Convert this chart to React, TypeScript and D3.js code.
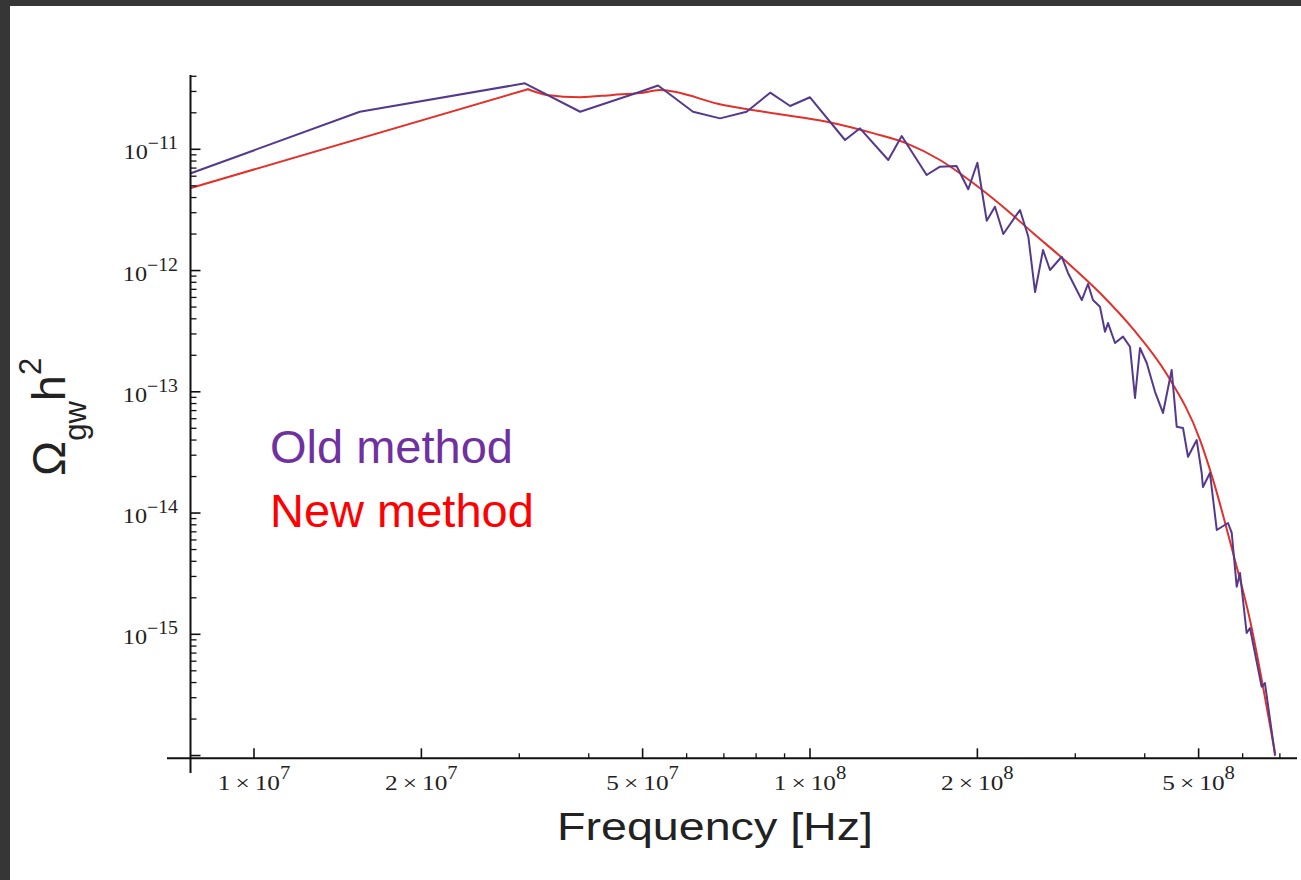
import React from "react";
import * as d3 from "d3";

// ---- data ----
const oldFreq = [7.70e6, 1.55e7, 3.07e7, 3.86e7, 4.95e7, 5.33e7, 6.16e7, 6.89e7, 7.69e7, 8.48e7, 9.21e7, 1.0e8, 1.156e8, 1.23e8, 1.383e8, 1.462e8, 1.621e8, 1.713e8, 1.835e8, 1.926e8, 2.0e8, 2.079e8, 2.151e8, 2.227e8, 2.386e8, 2.47e8, 2.54e8, 2.625e8, 2.702e8, 2.836e8, 2.911e8, 3.082e8, 3.162e8, 3.228e8, 3.323e8, 3.393e8, 3.436e8, 3.537e8, 3.656e8, 3.763e8, 3.842e8, 3.922e8, 4.033e8, 4.174e8, 4.314e8, 4.472e8, 4.566e8, 4.687e8, 4.785e8, 4.96e8, 5.064e8, 5.09e8, 5.24e8, 5.39e8, 5.647e8, 5.735e8, 5.854e8, 5.935e8, 6.1e8, 6.185e8, 6.49e8, 6.58e8, 6.86e8];
const oldOmega = [6.34e-12, 2.04e-11, 3.5e-11, 2.04e-11, 2.985e-11, 3.36e-11, 2.04e-11, 1.8e-11, 2.04e-11, 2.93e-11, 2.276e-11, 2.685e-11, 1.193e-11, 1.49e-11, 8.16e-12, 1.287e-11, 6.14e-12, 7.19e-12, 7.28e-12, 4.68e-12, 7.75e-12, 2.577e-12, 3.36e-12, 2.0e-12, 3.16e-12, 1.9e-12, 6.65e-13, 1.477e-12, 1.01e-12, 1.3e-12, 9.55e-13, 5.71e-13, 7.745e-13, 5.71e-13, 5.03e-13, 3.13e-13, 3.69e-13, 2.526e-13, 2.85e-13, 2.355e-13, 8.89e-14, 2.297e-13, 1.728e-13, 1.0e-13, 6.69e-14, 1.513e-13, 5.155e-14, 5.03e-14, 2.915e-14, 4.0e-14, 2.14e-14, 1.64e-14, 2.14e-14, 7.25e-15, 8.28e-15, 6.85e-15, 2.47e-15, 3.2e-15, 1.025e-15, 1.127e-15, 3.7e-16, 3.96e-16, 1.01e-16];

const newFreq = [7.70e6, 3.11e7, 3.36e7, 3.86e7, 4.42e7, 4.95e7, 5.37e7, 6.98e7, 8.58e7, 1.072e8, 1.298e8, 1.492e8, 1.713e8, 1.965e8, 2.259e8, 2.518e8, 2.894e8, 3.323e8, 3.81e8, 4.38e8, 5.03e8, 5.31e8, 5.766e8, 6.185e8, 6.53e8, 6.86e8];
const newOmega = [4.8e-12, 3.13e-11, 2.81e-11, 2.69e-11, 2.81e-11, 2.91e-11, 3.08e-11, 2.32e-11, 1.98e-11, 1.69e-11, 1.36e-11, 1.12e-11, 8.16e-12, 5.27e-12, 3.16e-12, 2.04e-12, 1.18e-12, 6.53e-13, 3.3e-13, 1.4e-13, 4.0e-14, 1.87e-14, 4.68e-15, 1.31e-15, 3.67e-16, 1.05e-16];

const xMajorTicks = [1e7, 2e7, 5e7, 1e8, 2e8, 5e8];
const xMajorMant = ["1", "2", "5", "1", "2", "5"];
const xMajorExp = ["7", "7", "7", "8", "8", "8"];
const xMinorTicks = [3e7, 4e7, 6e7, 7e7, 8e7, 9e7, 3e8, 4e8, 6e8, 7e8];

const yMajorExps = [-11, -12, -13, -14, -15, -16];
const yLabelExps = [-11, -12, -13, -14, -15];
const yMinorMults = [2, 3, 4, 5, 6, 7, 8, 9];

const seriesNames = ["Old method", "New method"];
const seriesColors = ["#7030A0", "#FF0000"];
const lineColors = ["#55398c", "#e3302a"];

// ---- layout ----
const W = 1301;
const H = 880;
const axisX = 190.5;
const axisY = 758.3;
const axisTop = 75;
const axisRight = 1297;

export default function App() {
  React.useEffect(() => {
    document.body.style.margin = "0";
  }, []);

  const x = d3.scaleLog().domain([1e7, 1e8]).range([254, 810]);
  const y = d3.scaleLog().domain([1e-11, 1e-15]).range([149.3, 634.3]);

  const oldData = oldFreq.map((f, i) => [f, oldOmega[i]] as [number, number]);
  const newData = newFreq.map((f, i) => [f, newOmega[i]] as [number, number]);

  const line = d3
    .line<[number, number]>()
    .x((d) => x(d[0]))
    .y((d) => y(d[1]))
    .curve(d3.curveLinear);
  const smooth = d3
    .line<[number, number]>()
    .x((d) => x(d[0]))
    .y((d) => y(d[1]))
    .curve(d3.curveMonotoneX);

  const yMinor: number[] = [];
  yMajorExps.forEach((e) => {
    yMinorMults.forEach((m) => {
      const v = m * Math.pow(10, e);
      const py = y(v);
      if (py >= axisTop && py <= axisY) yMinor.push(v);
    });
  });

  const tickColor = "#111";
  const labelColor = "#222";
  const serif = "'Liberation Serif', 'Times New Roman', serif";
  const sans = "'Liberation Sans', Arial, Helvetica, sans-serif";

  return (
    <svg
      width={W}
      height={H}
      style={{ position: "absolute", left: 0, top: 0, display: "block" }}
    >
      <rect x={0} y={0} width={W} height={H} fill="#ffffff" />
      {/* dark frame */}
      <rect x={0} y={0} width={W} height={6} fill="#363636" />
      <rect x={0} y={0} width={10} height={H} fill="#363636" />

      <defs>
        <clipPath id="plotClip">
          <rect x={axisX} y={axisTop - 10} width={axisRight - axisX} height={axisY - axisTop + 10} />
        </clipPath>
      </defs>

      {/* curves */}
      <g clipPath="url(#plotClip)" fill="none" strokeLinejoin="round" strokeLinecap="round">
        <path d={line(newData.slice(0, 2)) || ""} stroke={lineColors[1]} strokeWidth={2} />
        <path d={smooth(newData.slice(1)) || ""} stroke={lineColors[1]} strokeWidth={2} />
        <path d={line(oldData) || ""} stroke={lineColors[0]} strokeWidth={2} />
      </g>

      {/* axes */}
      <line x1={axisX} x2={axisX} y1={axisTop} y2={773} stroke={tickColor} strokeWidth={2} />
      <line x1={167} x2={axisRight} y1={axisY} y2={axisY} stroke={tickColor} strokeWidth={2} />

      {/* y ticks */}
      {yMajorExps.map((e) => {
        const py = y(Math.pow(10, e));
        return (
          <line key={"ymaj" + e} x1={axisX} x2={axisX + 10} y1={py} y2={py} stroke={tickColor} strokeWidth={1.6} />
        );
      })}
      {yMinor.map((v, i) => {
        const py = y(v);
        return <line key={"ymin" + i} x1={axisX} x2={axisX + 6} y1={py} y2={py} stroke={tickColor} strokeWidth={1.3} />;
      })}
      {yLabelExps.map((e) => {
        const py = y(Math.pow(10, e));
        return (
          <text
            key={"ylab" + e}
            transform={`translate(178,${py + 10}) scale(1.1,1)`}
            textAnchor="end"
            fontFamily={serif}
            fontSize={22}
            fill={labelColor}
          >
            10
            <tspan dy={-10} fontSize={18}>
              {"\u2212" + Math.abs(e)}
            </tspan>
          </text>
        );
      })}

      {/* x ticks */}
      {xMajorTicks.map((t, i) => {
        const px = x(t);
        return <line key={"xmaj" + i} x1={px} x2={px} y1={axisY} y2={axisY - 10} stroke={tickColor} strokeWidth={1.6} />;
      })}
      {xMinorTicks.map((t, i) => {
        const px = x(t);
        return <line key={"xmin" + i} x1={px} x2={px} y1={axisY} y2={axisY - 5} stroke={tickColor} strokeWidth={1.3} />;
      })}
      {xMajorTicks.map((t, i) => {
        const px = x(t);
        return (
          <text
            key={"xlab" + i}
            transform={`translate(${px},790) scale(1.15,1)`}
            textAnchor="middle"
            fontFamily={serif}
            fontSize={22}
            fill={labelColor}
          >
            {xMajorMant[i] + "\u2009\u00d7\u200910"}
            <tspan dy={-11} fontSize={18}>
              {xMajorExp[i]}
            </tspan>
          </text>
        );
      })}

      {/* axis titles */}
      <text
        x={557}
        y={840}
        fontFamily={sans}
        fontSize={38}
        fill={labelColor}
        textLength={316}
        lengthAdjust="spacingAndGlyphs"
      >
        Frequency [Hz]
      </text>
      <g transform="translate(65,476) rotate(-90)">
        <text x={0} y={0} fontFamily={sans} fontSize={47} fill={labelColor}>
          {"\u03a9"}
          <tspan dy={21} fontSize={31}>
            gw
          </tspan>
          <tspan dy={-21} fontSize={47}>
            h
          </tspan>
          <tspan dy={-24} fontSize={31}>
            2
          </tspan>
        </text>
      </g>

      {/* legend labels */}
      <text x={270} y={463} fontFamily={sans} fontSize={47} fill={seriesColors[0]}>
        {seriesNames[0]}
      </text>
      <text x={270} y={527} fontFamily={sans} fontSize={47} fill={seriesColors[1]}>
        {seriesNames[1]}
      </text>
    </svg>
  );
}
